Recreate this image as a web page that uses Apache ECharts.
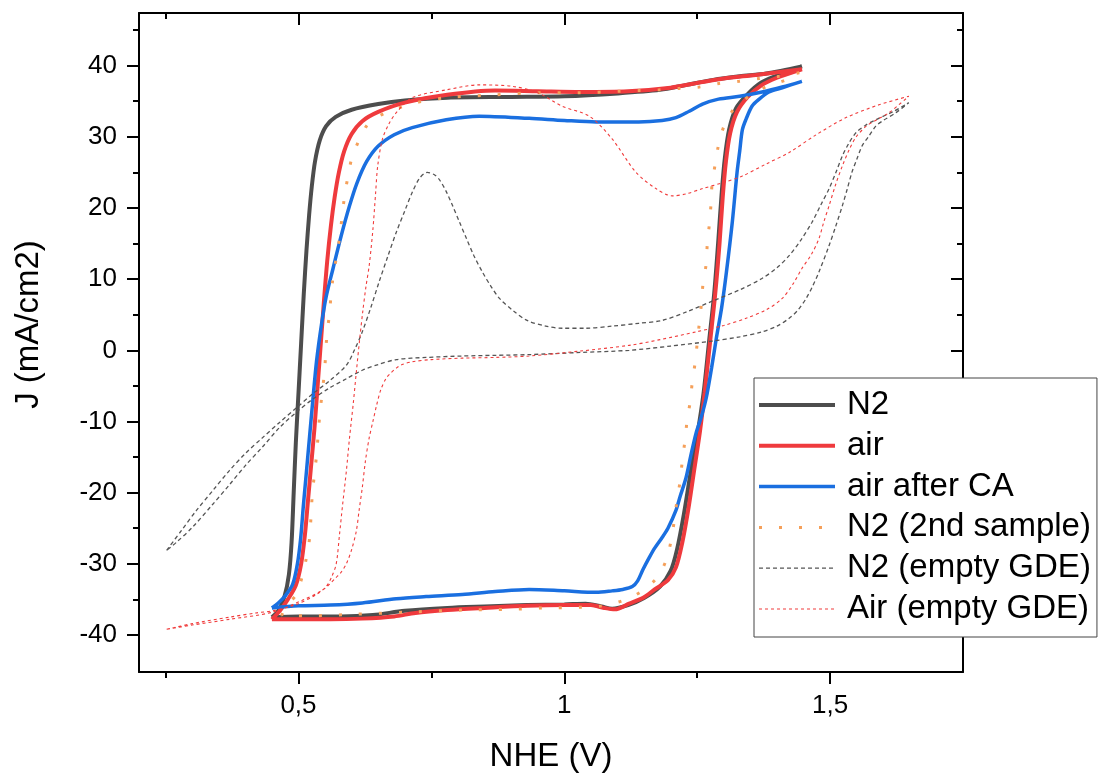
<!DOCTYPE html>
<html>
<head>
<meta charset="utf-8">
<script src="https://cdn.jsdelivr.net/npm/echarts@6/dist/echarts.min.js"></script>
<style>
html,body{margin:0;padding:0;background:#fff;}
#chart{width:1100px;height:778px;}
</style>
</head>
<body>
<div id="chart"></div>
<script>
// ---- data (x: NHE in V, y: J in mA/cm2) ----
const seriesNames = ['N2', 'air', 'air after CA', 'N2 (2nd sample)', 'N2 (empty GDE)', 'Air (empty GDE)'];

const xMajorTicks = [0.5, 1, 1.5];
const xMinorTicks = [0.25, 0.75, 1.25];
const yMajorTicks = [-40, -30, -20, -10, 0, 10, 20, 30, 40];
const yMinorTicks = [-35, -25, -15, -5, 5, 15, 25, 35, 45];

const n2 = [
  [0.450,-37.5],[0.462,-36.6],[0.474,-34.5],[0.482,-31.5],[0.487,-27],[0.491,-20],[0.495,-13],[0.500,-6],[0.505,1],
  [0.510,8],[0.515,14],[0.520,19],[0.525,23],[0.531,26.5],[0.540,29.5],[0.552,31.5],[0.570,32.8],[0.600,33.8],
  [0.650,34.6],[0.700,35.1],[0.780,35.5],[0.900,35.6],[1.000,35.7],[1.100,36.1],[1.180,36.6],[1.230,37.3],
  [1.280,38.0],[1.330,38.5],[1.380,38.9],[1.447,39.9],
  [1.400,38.6],[1.370,37.6],[1.345,36.0],[1.323,34.0],[1.310,31.0],[1.302,27],[1.296,22],[1.290,15.7],[1.282,8],
  [1.272,1.0],[1.262,-6],[1.250,-12],[1.238,-17],[1.225,-23],[1.212,-28],[1.200,-31],[1.180,-33.2],[1.150,-34.8],
  [1.120,-35.8],[1.090,-36.3],[1.070,-36.0],[1.040,-35.6],[1.000,-35.7],[0.930,-35.8],[0.850,-36.0],[0.780,-36.2],
  [0.700,-36.6],[0.640,-37.2],[0.580,-37.4],[0.500,-37.4],[0.450,-37.5]
];

const air = [
  [0.450,-37.8],[0.465,-36.6],[0.480,-35.0],[0.495,-33.0],[0.505,-30],[0.512,-26],[0.518,-21],[0.524,-16],[0.530,-11],
  [0.536,-5],[0.542,1],[0.548,7],[0.554,12.5],[0.561,17.5],[0.568,21.5],[0.576,25],[0.586,28],[0.600,30.4],
  [0.620,32.2],[0.650,33.5],[0.700,34.8],[0.780,35.9],[0.870,36.5],[0.950,36.4],[1.030,36.3],[1.120,36.4],
  [1.200,36.9],[1.260,37.7],[1.300,38.2],[1.360,38.7],[1.447,39.5],
  [1.400,38.3],[1.370,37.2],[1.345,35.6],[1.325,33.5],[1.312,30.5],[1.304,26.5],[1.298,21.5],[1.292,15],[1.284,8],
  [1.274,1.0],[1.264,-6],[1.255,-11.5],[1.245,-16.5],[1.234,-22],[1.222,-27],[1.210,-30.5],[1.195,-32.3],
  [1.170,-33.6],[1.150,-34.7],[1.122,-35.6],[1.095,-36.4],[1.075,-36.2],[1.050,-35.8],[1.000,-35.8],[0.930,-35.9],
  [0.850,-36.2],[0.780,-36.5],[0.720,-36.9],[0.680,-37.4],[0.620,-37.7],[0.560,-37.8],[0.500,-37.8],[0.450,-37.8]
];

const airAfterCA = [
  [0.450,-36.2],[0.462,-35.5],[0.475,-34.5],[0.489,-32.9],[0.498,-30],[0.504,-26.5],[0.509,-22],[0.515,-17],
  [0.521,-12],[0.527,-7],[0.534,-1.5],[0.543,3.5],[0.552,7.5],[0.565,11.5],[0.580,16],[0.596,20.3],[0.610,23.5],
  [0.628,26.5],[0.650,28.7],[0.680,30.3],[0.714,31.3],[0.778,32.4],[0.840,32.9],[0.934,32.6],[1.000,32.3],
  [1.060,32.1],[1.140,32.1],[1.184,32.3],[1.210,32.7],[1.235,33.6],[1.260,34.6],[1.290,35.3],[1.330,35.7],
  [1.372,36.3],[1.410,37.0],[1.447,37.8],
  [1.410,36.9],[1.385,36.3],[1.365,35.2],[1.353,34.3],[1.342,32.5],[1.335,31],[1.330,28],[1.325,25],[1.316,18],
  [1.305,11],[1.296,6],[1.286,1.7],[1.277,-2.5],[1.267,-6.7],[1.258,-9.3],[1.248,-11.6],[1.238,-14.8],[1.229,-17.9],
  [1.218,-20.5],[1.210,-22.5],[1.195,-25],[1.184,-26.3],[1.170,-27.8],[1.160,-29.1],[1.148,-30.8],[1.138,-32.4],
  [1.128,-33.2],[1.110,-33.6],[1.090,-33.8],[1.060,-34.0],[1.000,-33.8],[0.934,-33.6],[0.870,-33.9],[0.808,-34.3],
  [0.740,-34.6],[0.684,-34.9],[0.620,-35.5],[0.560,-35.8],[0.500,-35.9],[0.450,-36.2]
];

const n2Second = [
  [0.468,-37.3],[0.475,-36.2],[0.485,-35.3],[0.496,-34.3],[0.508,-31.5],[0.515,-29.1],[0.521,-26.3],[0.526,-20.3],
  [0.534,-14.7],[0.540,-9.1],[0.549,-2.9],[0.553,1.7],[0.558,5],[0.564,9.7],[0.577,15.7],[0.586,21.3],[0.592,24],
  [0.600,26.9],[0.615,29.7],[0.633,32],[0.665,33.4],[0.722,34.8],[0.778,35.5],[0.872,35.9],[0.953,36.2],
  [1.028,36.2],[1.103,36.4],[1.141,36.5],[1.179,36.6],[1.216,36.8],[1.254,37.0],[1.291,37.5],[1.329,37.8],
  [1.367,38.2],[1.404,38.5],[1.442,39.0],
  [1.417,38.0],[1.382,37.1],[1.352,35.9],[1.323,34.3],[1.301,31.6],[1.290,28.8],[1.284,26.2],[1.278,23.4],
  [1.276,20.6],[1.273,17.8],[1.269,15.0],[1.267,12.2],[1.261,9.4],[1.258,6.6],[1.254,3.8],[1.250,1.0],[1.246,-1.8],
  [1.241,-4.3],[1.237,-7.1],[1.231,-9.9],[1.227,-12.7],[1.222,-15.5],[1.218,-18.3],[1.212,-21.1],[1.207,-23.9],
  [1.201,-26.7],[1.192,-29.4],[1.175,-31.9],[1.147,-33.8],[1.113,-35.1],[1.071,-35.9],[1.034,-36.1],[0.959,-36.2],
  [0.900,-36.4],[0.808,-36.5],[0.700,-36.8],[0.600,-37.1],[0.520,-37.3],[0.468,-37.3]
];

const n2Empty = [
  [0.252,-28.1],[0.280,-25.3],[0.308,-22.5],[0.340,-19.6],[0.370,-16.9],[0.400,-14.5],[0.432,-12.3],[0.465,-10.1],
  [0.496,-8.1],[0.527,-6.1],[0.558,-4.3],[0.590,-2.1],[0.605,0],[0.620,2.6],[0.636,6],[0.652,9.7],[0.668,13.2],
  [0.684,16.6],[0.700,19.6],[0.714,22.2],[0.728,24.2],[0.742,25.0],[0.755,24.7],[0.765,24.0],[0.778,22.3],
  [0.790,20.3],[0.803,18.0],[0.816,15.7],[0.830,13.3],[0.846,11.0],[0.862,9.0],[0.878,7.3],[0.905,5.5],[0.930,4.2],
  [0.965,3.4],[0.996,3.1],[1.040,3.1],[1.090,3.4],[1.140,3.8],[1.184,4.2],[1.230,5.4],[1.278,6.9],[1.330,8.5],
  [1.372,10.1],[1.400,11.6],[1.423,13.3],[1.445,15.5],[1.466,18.0],[1.483,20.5],[1.498,22.7],[1.512,25.2],
  [1.523,27.3],[1.536,29.2],[1.549,30.6],[1.566,31.6],[1.586,32.4],[1.620,33.6],[1.648,34.8],
  [1.624,33.4],[1.600,32.3],[1.586,31.5],[1.572,30.0],[1.560,28.7],[1.550,26.8],[1.541,25.0],[1.532,22.6],
  [1.523,20.3],[1.510,17.3],[1.498,14.7],[1.479,11.0],[1.467,9.0],[1.455,7.3],[1.440,5.7],[1.423,4.5],[1.400,3.4],
  [1.372,2.6],[1.330,1.9],[1.278,1.3],[1.200,0.6],[1.122,0.0],[1.030,-0.3],[0.934,-0.6],[0.870,-0.7],[0.808,-0.8],
  [0.740,-1.0],[0.684,-1.3],[0.650,-2.0],[0.620,-2.8],[0.590,-4.0],[0.558,-5.3],[0.526,-6.9],[0.496,-8.7],
  [0.465,-10.8],[0.432,-13.6],[0.400,-16.2],[0.370,-18.9],[0.338,-21.7],[0.300,-24.9],[0.270,-27.0],[0.252,-28.1]
];

const airEmpty = [
  [0.252,-39.2],[0.300,-38.4],[0.370,-37.5],[0.420,-36.9],[0.451,-36.6],[0.496,-35.7],[0.534,-34.3],[0.552,-33.2],
  [0.562,-31.9],[0.571,-30.0],[0.577,-26],[0.583,-21.7],[0.590,-17],[0.596,-12.3],[0.603,-7.5],[0.609,-2.9],
  [0.615,1.5],[0.621,5.5],[0.627,9],[0.633,11.9],[0.640,17],[0.645,22],[0.649,25.9],[0.658,29.7],[0.670,31.8],
  [0.684,33.4],[0.714,35.5],[0.778,36.6],[0.840,37.3],[0.902,37.1],[0.950,36.2],[0.996,34.3],[1.047,32.9],
  [1.090,29.7],[1.135,25.0],[1.173,22.7],[1.203,21.7],[1.230,22.0],[1.259,22.7],[1.300,23.6],[1.335,24.5],
  [1.380,26.2],[1.423,27.8],[1.474,30.3],[1.530,32.7],[1.592,34.5],[1.648,35.7],
  [1.611,33.4],[1.590,32.5],[1.568,31.5],[1.549,30.0],[1.536,28.2],[1.523,25.9],[1.510,23.2],[1.498,20.3],
  [1.488,18],[1.479,15.7],[1.465,13.5],[1.447,11.5],[1.430,9.3],[1.410,7.3],[1.380,5.7],[1.342,4.5],[1.300,3.5],
  [1.248,2.6],[1.180,1.5],[1.122,0.7],[1.030,-0.1],[0.934,-0.8],[0.870,-1.0],[0.808,-1.1],[0.750,-1.3],
  [0.714,-1.6],[0.695,-2.0],[0.684,-2.5],[0.672,-3.3],[0.665,-3.9],[0.655,-5.5],[0.647,-7.7],[0.640,-10],
  [0.633,-12.3],[0.626,-15.5],[0.620,-19.3],[0.614,-22.5],[0.609,-25.3],[0.600,-28],[0.590,-30.0],[0.580,-31.2],
  [0.571,-31.9],[0.558,-32.9],[0.545,-33.7],[0.508,-35.1],[0.451,-36.8],[0.370,-37.8],[0.300,-38.6],[0.252,-39.2]
];

const seriesData = [n2, air, airAfterCA, n2Second, n2Empty, airEmpty];

// ---- styling ----
const FONT = '"Liberation Sans", Arial, Helvetica, sans-serif';
const styles = [
  {color:'#4d4d4d', width:4, type:'solid'},
  {color:'#ef3a3d', width:4, type:'solid'},
  {color:'#1a6fe0', width:3.5, type:'solid'},
  {color:'#f5a05a', width:3, type:[3,17]},
  {color:'#555555', width:1.3, type:[4,3]},
  {color:'#f03c3c', width:1.1, type:[3,3]}
];

const xMin = 0.2, xMax = 1.75, yMin = -45.2, yMax = 47.4;
const fmt = v => String(v).replace('.', ',');

function xAx(pos, ticks, len, withLabels, showLine) {
  return {
    type:'value', min:xMin, max:xMax, position:pos,
    axisLine:{show:showLine, onZero:false, lineStyle:{color:'#000', width:2}},
    axisTick:{show:true, inside:pos==='top', length:len, customValues:ticks, lineStyle:{color:'#000', width:2}},
    axisLabel:{show:withLabels, customValues:ticks, formatter:fmt, fontSize:26, color:'#000', fontFamily:FONT, margin:21},
    splitLine:{show:false}
  };
}
function yAx(pos, ticks, len, withLabels, showLine) {
  return {
    type:'value', min:yMin, max:yMax, position:pos,
    axisLine:{show:showLine, onZero:false, lineStyle:{color:'#000', width:2}},
    axisTick:{show:true, inside:pos==='right', length:len, customValues:ticks, lineStyle:{color:'#000', width:2}},
    axisLabel:{show:withLabels, customValues:ticks, fontSize:26, color:'#000', fontFamily:FONT, margin:22},
    splitLine:{show:false}
  };
}

const xAxes = [
  Object.assign(xAx('bottom', xMajorTicks, 12, true, true), {
    name:'NHE (V)', nameLocation:'middle', nameGap:68,
    nameTextStyle:{fontSize:33, color:'#000', fontFamily:FONT}
  }),
  xAx('bottom', xMinorTicks, 6, false, false),
  xAx('top', xMajorTicks, 12, false, true),
  xAx('top', xMinorTicks, 6, false, false)
];
const yAxes = [
  Object.assign(yAx('left', yMajorTicks, 12, true, true), {
    name:'J (mA/cm2)', nameLocation:'middle', nameGap:94,
    nameTextStyle:{fontSize:33, color:'#000', fontFamily:FONT, padding:[0,0,0,36]}
  }),
  yAx('left', yMinorTicks, 6, false, false),
  yAx('right', yMajorTicks, 12, false, true),
  yAx('right', yMinorTicks, 6, false, false)
];

const series = seriesNames.map((name, i) => ({
  name: name,
  type: 'line',
  xAxisIndex: 0,
  yAxisIndex: 0,
  data: seriesData[i],
  symbol: 'none',
  smooth: 0.3,
  clip: true,
  color: styles[i].color,
  lineStyle: {color: styles[i].color, width: styles[i].width, type: styles[i].type, cap: 'butt'},
  emphasis: {disabled: true}
}));

const legendData = seriesNames.map((name, i) => ({
  name: name,
  lineStyle: {color: styles[i].color, width: styles[i].width, type: styles[i].type, cap: 'butt'}
}));

const chart = echarts.init(document.getElementById('chart'), null, {renderer:'canvas'});
chart.setOption({
  animation: false,
  backgroundColor: '#fff',
  grid: {left:139, right:137, top:13, bottom:103, containLabel:false},
  xAxis: xAxes,
  yAxis: yAxes,
  legend: {
    data: legendData,
    orient: 'vertical',
    left: 754, top: 378,
    itemWidth: 76, itemHeight: 2, itemGap: 6.8,
    padding: [10, 6, 11, 3],
    borderColor: '#444', borderWidth: 1, borderRadius: 0,
    backgroundColor: '#fff',
    selectedMode: false,
    itemStyle: {opacity: 0, color: 'rgba(0,0,0,0)', borderWidth: 0},
    textStyle: {fontSize:33, color:'#000', fontFamily:FONT, lineHeight:34, padding:[0,0,0,7]}
  },
  tooltip: {show:false},
  series: series
});
</script>
</body>
</html>
